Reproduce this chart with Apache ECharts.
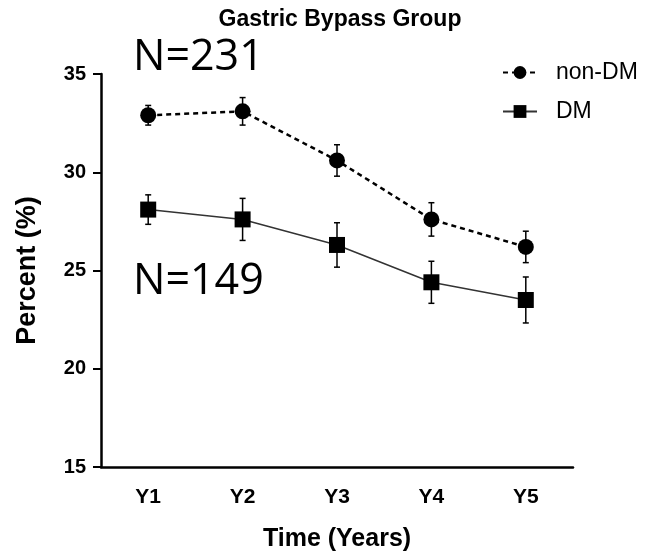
<!DOCTYPE html>
<html>
<head>
<meta charset="utf-8">
<script src="https://cdn.jsdelivr.net/npm/echarts@6/dist/echarts.min.js"></script>
<style>
html, body { margin: 0; padding: 0; background: #fff; }
#chart { width: 654px; height: 554px; }
</style>
</head>
<body>
<div id="chart"></div>
<script>
// 数据
const years = ['Y1', 'Y2', 'Y3', 'Y4', 'Y5'];
const nonDM = [32.9, 33.1, 30.6, 27.6, 26.2];
const nonDMErr = [0.5, 0.7, 0.8, 0.85, 0.8];
const dm = [28.1, 27.6, 26.3, 24.4, 23.5];
const dmErr = [0.75, 1.07, 1.13, 1.07, 1.17];

const chart = echarts.init(document.getElementById('chart'));

// 误差线数据: [x, low, high]
const errData = (vals, errs) => vals.map((v, i) => [i, v - errs[i], v + errs[i]]);

const renderErr = function (params, api) {
    const x = api.value(0);
    const lo = api.coord([x, api.value(1)]);
    const hi = api.coord([x, api.value(2)]);
    const w = 3;
    const style = { stroke: '#000', lineWidth: 1.5 };
    return {
        type: 'group',
        children: [
            { type: 'line', shape: { x1: lo[0], y1: lo[1], x2: hi[0], y2: hi[1] }, style: style },
            { type: 'line', shape: { x1: lo[0] - w, y1: lo[1], x2: lo[0] + w, y2: lo[1] }, style: style },
            { type: 'line', shape: { x1: hi[0] - w, y1: hi[1], x2: hi[0] + w, y2: hi[1] }, style: style }
        ]
    };
};

const boldFont = 'Liberation Sans';

const option = {
    backgroundColor: '#fff',
    animation: false,
    title: {
        text: 'Gastric Bypass Group',
        left: 335,
        textAlign: 'center',
        top: 3,
        textStyle: { fontFamily: boldFont, fontWeight: 'bold', fontSize: 23, color: '#000' }
    },
    grid: { left: 101, right: 81, top: 74, bottom: 87, outerBoundsMode: 'none' },
    legend: {
        orient: 'vertical',
        left: 497,
        top: 56,
        itemGap: 16,
        itemWidth: 34,
        itemHeight: 16,
        data: ['non-DM', 'DM'],
        textStyle: { fontFamily: boldFont, fontSize: 23, color: '#000', padding: [0, 0, 0, 14] }
    },
    xAxis: {
        type: 'category',
        data: years,
        boundaryGap: true,
        name: 'Time (Years)',
        nameLocation: 'middle',
        nameGap: 60,
        nameTextStyle: { fontFamily: boldFont, fontWeight: 'bold', fontSize: 25, color: '#000' },
        axisLine: { lineStyle: { color: '#000', width: 2.5 } },
        axisTick: { alignWithLabel: true, length: 8, lineStyle: { color: '#000', width: 2 } },
        axisLabel: { fontFamily: boldFont, fontWeight: 'bold', fontSize: 21, color: '#000', margin: 20 }
    },
    yAxis: {
        type: 'value',
        min: 15,
        max: 35,
        interval: 5,
        name: 'Percent (%)',
        nameLocation: 'middle',
        nameGap: 60,
        nameTextStyle: { fontFamily: boldFont, fontWeight: 'bold', fontSize: 27, color: '#000' },
        axisLine: { show: true, lineStyle: { color: '#000', width: 2.5 } },
        axisTick: { show: true, length: 8, lineStyle: { color: '#000', width: 2 } },
        axisLabel: { fontFamily: boldFont, fontWeight: 'bold', fontSize: 20, color: '#000', margin: 15 },
        splitLine: { show: false }
    },
    series: [
        {
            name: 'non-DM',
            type: 'line',
            data: nonDM,
            symbol: 'circle',
            symbolSize: 16,
            itemStyle: { color: '#000' },
            lineStyle: { color: '#000', width: 2.5, type: [5, 4] },
            z: 3
        },
        {
            name: 'DM',
            type: 'line',
            data: dm,
            symbol: 'rect',
            symbolSize: 16,
            itemStyle: { color: '#000' },
            lineStyle: { color: '#333', width: 1.5 },
            z: 3
        },
        {
            type: 'custom',
            renderItem: renderErr,
            data: errData(nonDM, nonDMErr),
            encode: { x: 0, y: [1, 2] },
            z: 2
        },
        {
            type: 'custom',
            renderItem: renderErr,
            data: errData(dm, dmErr),
            encode: { x: 0, y: [1, 2] },
            z: 2
        }
    ],
    graphic: [
        {
            type: 'text', left: 133, top: 36,
            style: { text: 'N=231', fontFamily: 'Open Sans', fontSize: 43, fill: '#000' }
        },
        {
            type: 'text', left: 133, top: 260,
            style: { text: 'N=149', fontFamily: 'Open Sans', fontSize: 43, fill: '#000' }
        }
    ]
};

chart.setOption(option);
</script>
</body>
</html>
